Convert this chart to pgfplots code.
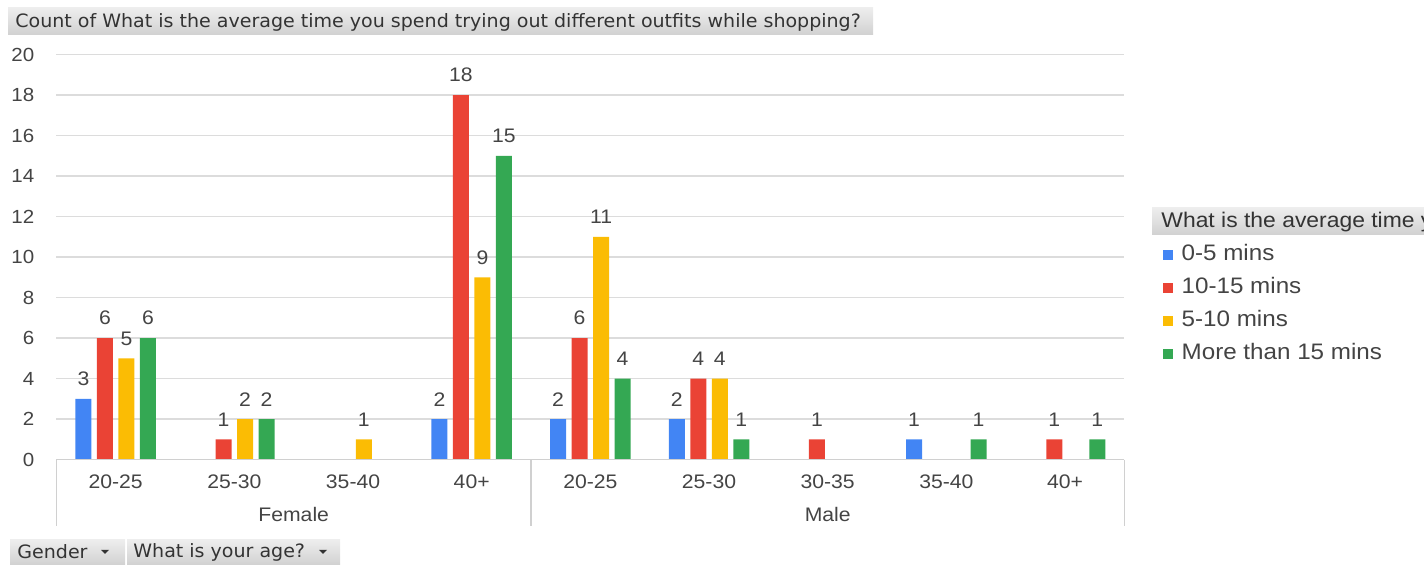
\documentclass[border=0pt]{standalone}
\usepackage{pgfplots}
\pgfplotsset{compat=1.18}
\usepackage{fontspec}
\setmainfont{Liberation Sans}[FakeStretch=1.08]
\newfontfamily\cond{DejaVu Sans Condensed}[FakeStretch=1.15]
\definecolor{cblue}{HTML}{4285F4}
\definecolor{cred}{HTML}{EA4335}
\definecolor{cyel}{HTML}{FBBC04}
\definecolor{cgreen}{HTML}{34A853}
\definecolor{gridc}{HTML}{DCDCDC}
\definecolor{framec}{HTML}{D0D0D0}
\definecolor{txt}{HTML}{444444}
\definecolor{ttl}{HTML}{333333}
\begin{document}
\begin{tikzpicture}[x=1pt,y=1pt]
\path[use as bounding box] (0,0) rectangle (712,282.5);
% title box
\shade[top color=black!7, bottom color=black!18] (4,265) rectangle (436.5,278.5);
\node[anchor=west, inner sep=0pt, text=ttl, font=\cond\fontsize{9.2}{10}\selectfont] at (7.5,271.5) {Count of What is the average time you spend trying out different outfits while shopping?};
% bottom buttons
\shade[top color=black!7, bottom color=black!18] (5,0) rectangle (62.5,12.5);
\shade[top color=black!7, bottom color=black!18] (63.5,0) rectangle (170,12.5);
\node[anchor=west, inner sep=0pt, text=ttl, font=\cond\fontsize{9.2}{10}\selectfont] at (8.5,6.5) {Gender};
\node[anchor=west, inner sep=0pt, text=ttl, font=\cond\fontsize{9.2}{10}\selectfont] at (66.5,6.5) {What is your age?};
\fill[ttl] (50.5,7.5) -- (54.5,7.5) -- (52.5,5.5) -- cycle;
\fill[ttl] (159.5,7.5) -- (163.5,7.5) -- (161.5,5.5) -- cycle;
% legend title
\begin{scope}
\clip (0,0) rectangle (712,282.5);
\shade[top color=black!7, bottom color=black!18] (576,165) rectangle (720,178.5);
\node[anchor=west, inner sep=0pt, text=ttl, font=\fontsize{10.6}{11}\selectfont] at (580.5,171.5) {What is the average time you spend trying out different outfits while shopping?};
\end{scope}
\begin{axis}[
  at={(47.5,52)}, anchor=south west,
  scale only axis, width=534pt, height=202.5pt,
  xmin=-0.5, xmax=8.5, ymin=0, ymax=20,
  ytick={0,2,...,20},
  xtick={0,...,8},
  xticklabels={20-25,25-30,35-40,40+,20-25,25-30,30-35,35-40,40+},
  /pgf/number format/assume math mode=true,
  axis line style={draw=none},
  ymajorgrids, grid style={gridc, line width=0.7pt},
  major tick length=0pt,
  ybar=2.75pt, bar width=8pt,
  yticklabel style={font=\fontsize{9.5}{10}\selectfont, text=txt, xshift=-7.5pt},
  xticklabel style={font=\fontsize{9.8}{11}\selectfont, text=txt, yshift=-4pt},
  nodes near coords,
  every node near coord/.append style={font=\fontsize{9.8}{10}\selectfont, text=txt, yshift=3pt},
  clip=false,
  legend cell align=left,
  legend style={at={(1.0355,0.532)}, anchor=north west, draw=none, fill=none,
    inner sep=0pt, row sep=6pt, font=\fontsize{11.2}{12}\selectfont, text=txt,
    nodes={inner sep=0pt, text height=8pt, text depth=2.5pt},
    /tikz/every odd column/.append style={column sep=4.5pt}},
  legend image code/.code={\fill (0pt,-2.5pt) rectangle (5pt,2.5pt);},
]
\addplot[fill=cblue, draw=none] coordinates {(0,3) (3,2) (4,2) (5,2) (7,1)};
\addplot[fill=cred, draw=none] coordinates {(0,6) (1,1) (3,18) (4,6) (5,4) (6,1) (8,1)};
\addplot[fill=cyel, draw=none] coordinates {(0,5) (1,2) (2,1) (3,9) (4,11) (5,4)};
\addplot[fill=cgreen, draw=none] coordinates {(0,6) (1,2) (3,15) (4,4) (5,1) (7,1) (8,1)};
\legend{0-5 mins,10-15 mins,5-10 mins,More than 15 mins}
\draw[framec, line width=0.8pt] (rel axis cs:0,0) -- (rel axis cs:1,0);
\draw[framec, line width=0.8pt] (rel axis cs:0,0) -- ([yshift=-33pt]rel axis cs:0,0);
\draw[framec, line width=0.8pt] (axis cs:3.5,0) -- ([yshift=-33pt]axis cs:3.5,0);
\draw[framec, line width=0.8pt] (rel axis cs:1,0) -- ([yshift=-33pt]rel axis cs:1,0);
\node[font=\fontsize{9.8}{11}\selectfont, text=txt] at ([yshift=-27.5pt]axis cs:1.5,0) {Female};
\node[font=\fontsize{9.8}{11}\selectfont, text=txt] at ([yshift=-27.5pt]axis cs:6,0) {Male};
\end{axis}
\end{tikzpicture}
\end{document}
